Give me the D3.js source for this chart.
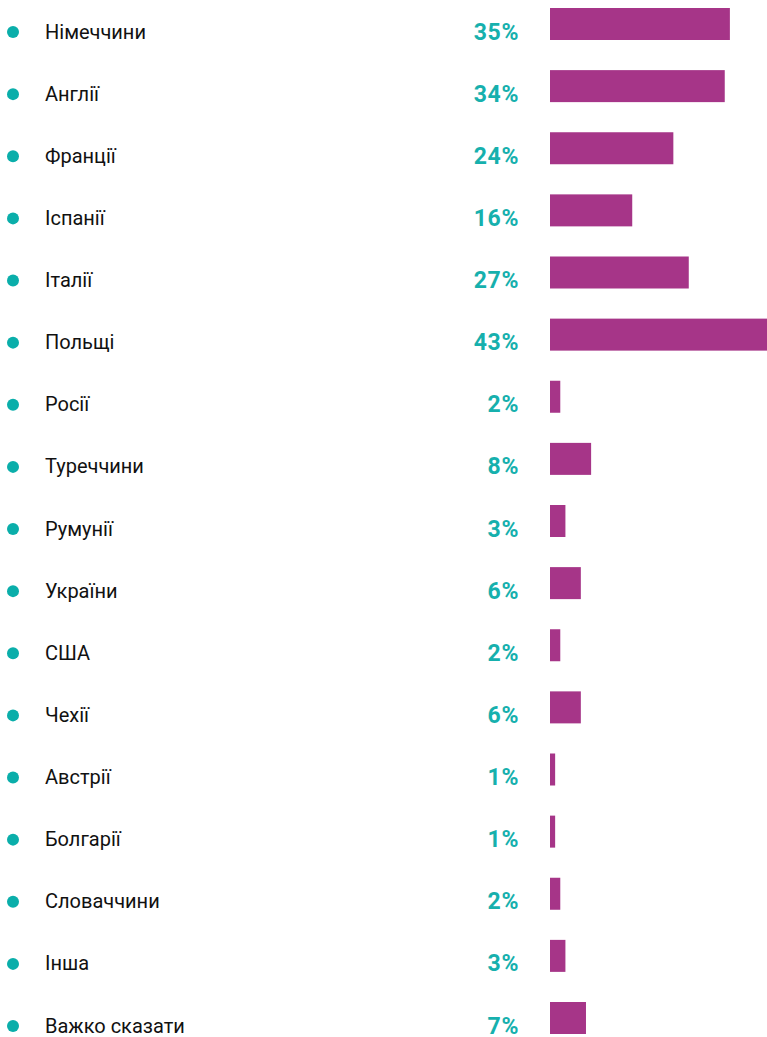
<!DOCTYPE html>
<html lang="uk">
<head>
<meta charset="utf-8">
<style>
  body { margin: 0; background: white; }
  .label { font-family: "Roboto", sans-serif; font-size: 20px; fill: #111; }
  .pct { font-family: "Roboto", sans-serif; font-weight: 700; font-size: 23px; letter-spacing: 0.6px; fill: #16b0ad; }
  .bar { fill: #a63588; }
  .dot { fill: #0aaeaa; }
</style>
</head>
<body>
<svg id="chart"></svg>
<script src="https://cdn.jsdelivr.net/npm/d3@7"></script>
<script>
// countries (answer options) and share in %
var countries = ["Німеччини", "Англії", "Франції", "Іспанії", "Італії", "Польщі", "Росії",
  "Туреччини", "Румунії", "України", "США", "Чехії", "Австрії", "Болгарії",
  "Словаччини", "Інша", "Важко сказати"]
var values = [35, 34, 24, 16, 27, 43, 2, 8, 3, 6, 2, 6, 1, 1, 2, 3, 7]

var width = 767, height = 1037

var svg = d3.select("#chart")
  .attr("width", width)
  .attr("height", height)

var data = countries.map(function(c, i){ return {name: c, value: values[i]} })

// row centres
var y = d3.scalePoint()
  .domain(countries)
  .range([24, 24 + 16 * 62.125])

// bar length (the longest bar runs off the right edge)
var x = d3.scaleLinear()
  .domain([0, 43])
  .range([0, 221])

var barLeft = 550, barH = 32

var rows = svg.selectAll(".row")
  .data(data).enter().append("g")
  .attr("class", "row")
  .attr("transform", function(d){ return "translate(0," + y(d.name) + ")" })

rows.append("circle")
  .attr("class", "dot")
  .attr("cx", 13)
  .attr("cy", 8)
  .attr("r", 6)

rows.append("text")
  .attr("class", "label")
  .attr("x", 45)
  .attr("y", 14.5)
  .text(function(d){ return d.name })

rows.append("text")
  .attr("class", "pct")
  .attr("x", 519)
  .attr("y", 15.5)
  .attr("text-anchor", "end")
  .text(function(d){ return d.value + "%" })

rows.append("rect")
  .attr("class", "bar")
  .attr("x", barLeft)
  .attr("y", -barH / 2)
  .attr("width", function(d){ return x(d.value) })
  .attr("height", barH)
</script>
</body>
</html>
